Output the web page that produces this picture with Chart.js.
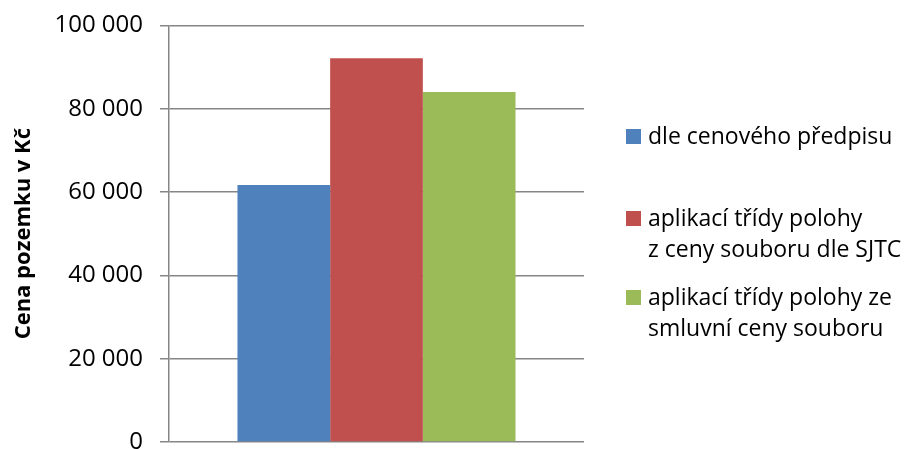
<!DOCTYPE html>
<html>
<head>
<meta charset="utf-8">
<script src="https://cdn.jsdelivr.net/npm/chart.js@4/dist/chart.umd.min.js"></script>
<style>
  html, body { margin: 0; padding: 0; background: #fff; overflow: hidden; }
  #wrap { width: 905px; height: 449px; overflow: hidden; }
  #myChart { display: block; margin-top: -6px; }
</style>
</head>
<body>
<div id="wrap"><canvas id="myChart" width="905" height="490"></canvas></div>
<script>
// data
var categories = [""];
var seriesNames = [
    ["dle cenového předpisu"],
    ["aplikací třídy polohy", "z ceny souboru dle SJTC"],
    ["aplikací třídy polohy ze", "smluvní ceny souboru"]
];
var predpis = [61700];
var sjtc = [92100];
var smluvni = [84000];
var yTicks = [0, 20000, 40000, 60000, 80000, 100000];
var yTitle = "Cena pozemku v Kč";

var colors = ["#4F81BD", "#C0504D", "#9BBB59"];
var FONT = "'Open Sans', sans-serif";
var SHIFT = 6; // canvas is pulled up by this much

function fmt(v) {
    return String(v).replace(/\B(?=(\d{3})+(?!\d))/g, " ");
}

// legend drawn by hand, labels have two lines
var sideLegend = {
    id: "sideLegend",
    afterDraw: function (chart) {
        var ctx = chart.ctx;
        var rows = [137, 219, 298];
        ctx.save();
        ctx.font = "23px " + FONT;
        ctx.textBaseline = "middle";
        chart.data.datasets.forEach(function (ds, i) {
            var y = rows[i] + SHIFT;
            ctx.fillStyle = ds.backgroundColor;
            ctx.fillRect(626, y - 8, 15, 15);
            ctx.fillStyle = "#000";
            var lines = seriesNames[i];
            for (var j = 0; j < lines.length; j++) {
                ctx.fillText(lines[j], 648, y + j * 31);
            }
        });
        ctx.restore();
    }
};

var data = {
    labels: categories,
    datasets: [
        { label: seriesNames[0].join(" "), data: predpis, backgroundColor: colors[0] },
        { label: seriesNames[1].join(" "), data: sjtc, backgroundColor: colors[1] },
        { label: seriesNames[2].join(" "), data: smluvni, backgroundColor: colors[2] }
    ]
};

var ctx = document.getElementById("myChart").getContext("2d");
var myChart = new Chart(ctx, {
    type: "bar",
    data: data,
    options: {
        responsive: false,
        animation: false,
        layout: { padding: { left: 0, right: 321, top: 0, bottom: 42 } },
        datasets: { bar: { barPercentage: 1, categoryPercentage: 0.67 } },
        plugins: { legend: { display: false }, tooltip: { enabled: false } },
        scales: {
            x: { display: false },
            y: {
                min: 0,
                max: 100000,
                afterBuildTicks: function (scale) {
                    scale.ticks = yTicks.map(function (v) { return { value: v }; });
                },
                afterFit: function (scale) { scale.width = 169; },
                border: { color: "#868686", width: 1.5 },
                grid: { color: "#868686", lineWidth: 1.5, tickLength: 9 },
                ticks: {
                    padding: 17,
                    color: "#000",
                    font: { family: FONT, size: 24 },
                    callback: function (v) { return fmt(v); }
                },
                title: {
                    display: true,
                    text: yTitle,
                    color: "#000",
                    padding: { top: 11, bottom: 0 },
                    font: { family: FONT, size: 22, weight: "bold" }
                }
            }
        }
    },
    plugins: [sideLegend]
});
</script>
</body>
</html>
